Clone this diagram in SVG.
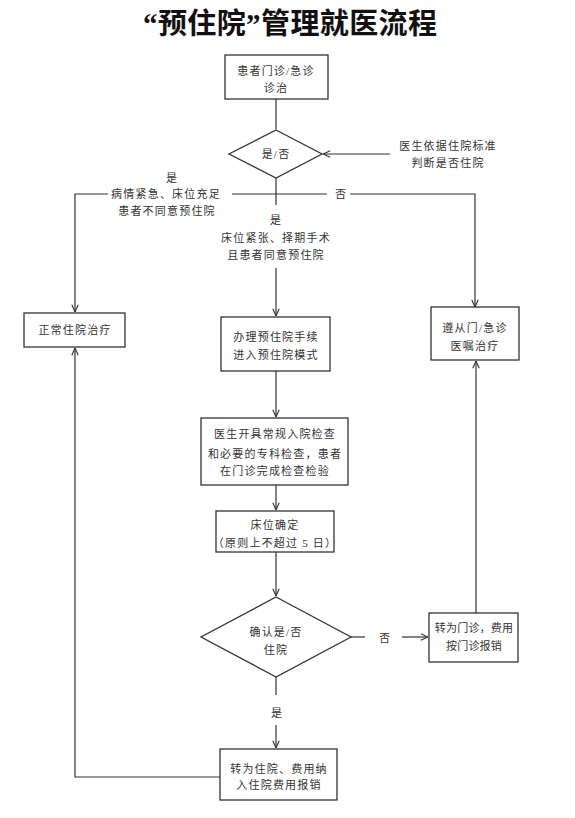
<svg xmlns="http://www.w3.org/2000/svg" width="575" height="818" viewBox="0 0 575 818">
<defs>
<marker id="arr" viewBox="0 0 10 10" refX="10" refY="5" markerWidth="8" markerHeight="8" markerUnits="userSpaceOnUse" orient="auto">
<path d="M1,1 L10,5 L1,9" fill="none" stroke="#333" stroke-width="1.4"/>
</marker>
</defs>
<style>
.node{fill:#fff;stroke:#333;stroke-width:1.3}
.t{font-family:"Liberation Serif","Noto Sans CJK SC",serif;font-size:11px;fill:#333;text-anchor:middle;letter-spacing:1.2px}
.tn{letter-spacing:0.2px}
.ln{fill:none;stroke:#333;stroke-width:1.2}
.title{font-family:"Liberation Serif","Noto Sans CJK SC",serif;font-size:29px;font-weight:bold;fill:#111;text-anchor:middle}
</style>
<rect width="575" height="818" fill="#fff"/>
<text class="title" x="290" y="34" textLength="294" lengthAdjust="spacing">“预住院”管理就医流程</text>

<g id="connectors">
<path class="ln" d="M276,99 V129"/>
<path class="ln" d="M390,154 H323" marker-end="url(#arr)"/>
<path class="ln" d="M276,178 V205"/>
<path class="ln" d="M276,268 V316" marker-end="url(#arr)"/>
<path class="ln" d="M108,194 H75 V312" marker-end="url(#arr)"/>
<path class="ln" d="M232,194 H327"/>
<path class="ln" d="M350,194 H475 V307" marker-end="url(#arr)"/>
<path class="ln" d="M276,371 V417" marker-end="url(#arr)"/>
<path class="ln" d="M276,485 V510" marker-end="url(#arr)"/>
<path class="ln" d="M276,552 V596" marker-end="url(#arr)"/>
<path class="ln" d="M351,637 H365"/>
<path class="ln" d="M402,637 H428" marker-end="url(#arr)"/>
<path class="ln" d="M476,613 V361" marker-end="url(#arr)"/>
<path class="ln" d="M276,677 V695"/>
<path class="ln" d="M276,725 V748" marker-end="url(#arr)"/>
<path class="ln" d="M220,777 H75 V348" marker-end="url(#arr)"/>
<text class="t" x="172" y="182">是</text>
<text class="t" x="166" y="198">病情紧急、床位充足</text>
<text class="t" x="167" y="215">患者不同意预住院</text>
<text class="t" x="341" y="198">否</text>
<text class="t" x="276" y="224">是</text>
<text class="t" x="276" y="242">床位紧张、择期手术</text>
<text class="t" x="276" y="259">且患者同意预住院</text>
<text class="t" x="385" y="642">否</text>
<text class="t" x="277" y="717">是</text>
</g>

<g id="n1">
<rect class="node" x="225" y="55" width="103" height="44"/>
<text class="t" x="276" y="75">患者门诊/急诊</text>
<text class="t" x="276" y="92">诊治</text>
</g>
<g id="d1">
<polygon class="node" points="276,130 322,154 276,178 229,154"/>
<text class="t" x="276" y="158">是/否</text>
</g>
<g id="note">
<text class="t" x="448" y="150">医生依据住院标准</text>
<text class="t" x="448" y="167">判断是否住院</text>
</g>
<g id="n_left">
<rect class="node" x="24" y="313" width="101" height="34"/>
<text class="t" x="75" y="334">正常住院治疗</text>
</g>
<g id="n2">
<rect class="node" x="221" y="317" width="109" height="54"/>
<text class="t" x="276" y="341">办理预住院手续</text>
<text class="t" x="276" y="359">进入预住院模式</text>
</g>
<g id="n_right">
<rect class="node" x="431" y="307" width="88" height="53"/>
<text class="t" x="475" y="332">遵从门/急诊</text>
<text class="t" x="475" y="350">医嘱治疗</text>
</g>
<g id="n3">
<rect class="node" x="201" y="418" width="147" height="67"/>
<text class="t" x="275" y="438">医生开具常规入院检查</text>
<text class="t" x="275" y="458">和必要的专科检查，患者</text>
<text class="t" x="275" y="475">在门诊完成检查检验</text>
</g>
<g id="n4">
<rect class="node" x="216" y="511" width="118" height="41"/>
<text class="t" x="275" y="529">床位确定</text>
<text class="t" x="275" y="547">（原则上不超过 5 日）</text>
</g>
<g id="d2">
<polygon class="node" points="276,597 351,637 276,677 201,637"/>
<text class="t" x="276" y="636">确认是/否</text>
<text class="t" x="276" y="654">住院</text>
</g>
<g id="n5">
<rect class="node" x="429" y="613" width="89" height="49"/>
<text class="t tn" x="474" y="632">转为门诊，费用</text>
<text class="t tn" x="474" y="650">按门诊报销</text>
</g>
<g id="n6">
<rect class="node" x="220" y="749" width="117" height="51"/>
<text class="t" x="279" y="773">转为住院、费用纳</text>
<text class="t" x="279" y="789">入住院费用报销</text>
</g>
</svg>
